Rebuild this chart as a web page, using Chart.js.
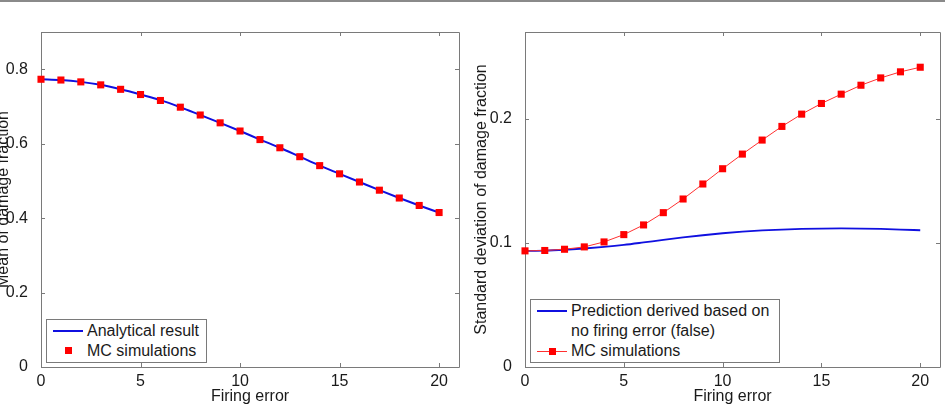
<!DOCTYPE html>
<html lang="en">
  <head>
    <meta charset="UTF-8" />
    <title>Damage fraction vs firing error</title>
    <style>
      body { margin: 0; background: #fff; font-family: "Liberation Sans", Arial, sans-serif; }
      #page { position: relative; width: 945px; height: 408px; overflow: hidden; background: #fff; }
      #topline { position: absolute; left: 0; top: 0; width: 945px; height: 2px; background: #8a8a8a; }
      canvas { position: absolute; top: 0; }
      #leftChart { left: -20px; }
      #rightChart { left: 465px; }
      .legend { position: absolute; border: 1px solid #7a7a7a; background: #fff; box-sizing: border-box; }
      .legend-text { position: absolute; font-size: 16px; line-height: 20px; color: #1a1a1a; white-space: nowrap; }
      .sample-line { position: absolute; width: 30px; }
      .sample-mark { position: absolute; width: 7px; height: 7px; background: #ff0000; }
    </style>
  </head>
  <body>
    <div id="page">
      <div id="topline"></div>
      <canvas id="leftChart" width="485" height="408"></canvas>
      <canvas id="rightChart" width="480" height="408"></canvas>

      <div class="legend" style="left:46px; top:319px; width:161px; height:44px;"></div>
      <div class="sample-line" style="left:53px; top:330px; height:2px; background:#1010e0;"></div>
      <div class="legend-text" style="left:87px; top:321px;">Analytical result</div>
      <div class="sample-mark" style="left:65px; top:347px;"></div>
      <div class="legend-text" style="left:87px; top:341px;">MC simulations</div>

      <div class="legend" style="left:530px; top:299px; width:250px; height:64px;"></div>
      <div class="sample-line" style="left:537px; top:310px; height:2px; background:#1010e0;"></div>
      <div class="legend-text" style="left:571px; top:301px;">Prediction derived based on</div>
      <div class="legend-text" style="left:571px; top:321px;">no firing error (false)</div>
      <div class="sample-line" style="left:537px; top:351px; height:1px; background:#ff3030;"></div>
      <div class="sample-mark" style="left:549px; top:348px;"></div>
      <div class="legend-text" style="left:571px; top:341px;">MC simulations</div>
    </div>

    <script src="https://cdn.jsdelivr.net/npm/chart.js@4.4.1/dist/chart.umd.min.js"></script>
    <script>
      // data
      const firingError = [0, 1, 2, 3, 4, 5, 6, 7, 8, 9, 10, 11, 12, 13, 14, 15, 16, 17, 18, 19, 20];

      const meanAnalytical = [0.773, 0.771, 0.766, 0.758, 0.746, 0.732, 0.717, 0.698, 0.677, 0.656, 0.634,
                              0.611, 0.589, 0.565, 0.541, 0.519, 0.497, 0.475, 0.454, 0.434, 0.415];
      const meanMC = [0.773, 0.771, 0.766, 0.758, 0.746, 0.732, 0.716, 0.698, 0.677, 0.656, 0.634,
                      0.611, 0.589, 0.565, 0.541, 0.519, 0.497, 0.475, 0.454, 0.434, 0.415];

      const stdPrediction = [0.0936, 0.0938, 0.0945, 0.0955, 0.0968, 0.0984, 0.1004, 0.1025, 0.1044, 0.1062, 0.1078,
                             0.1091, 0.1101, 0.1108, 0.1113, 0.1116, 0.1117, 0.1116, 0.1113, 0.1108, 0.1102];
      const stdMC = [0.0936, 0.0939, 0.0949, 0.0968, 0.1008, 0.1067, 0.1145, 0.1244, 0.1354, 0.1475, 0.1598,
                     0.1716, 0.1829, 0.1939, 0.2038, 0.2124, 0.2199, 0.2271, 0.2330, 0.2379, 0.2416];

      const xTicks = [0, 5, 10, 15, 20];
      const meanTicks = [0, 0.2, 0.4, 0.6, 0.8];
      const stdTicks = [0, 0.1, 0.2];

      const pts = (ys) => firingError.map((x, i) => ({ x: x, y: ys[i] }));

      const font = { family: "'Liberation Sans', Arial, sans-serif", size: 16 };

      // matlab style box with inward ticks
      const frame = {
        id: "frame",
        beforeDatasetsDraw(chart) {
          const a = chart.chartArea;
          const c = chart.ctx;
          const sx = chart.scales.x, sy = chart.scales.y;
          c.save();
          c.strokeStyle = "#7a7a7a";
          c.lineWidth = 1;
          c.beginPath();
          c.rect(Math.round(a.left) + 0.5, Math.round(a.top) + 0.5, Math.round(a.right - a.left), Math.round(a.bottom - a.top));
          sx.ticks.forEach((t) => {
            const px = Math.round(sx.getPixelForValue(t.value)) + 0.5;
            c.moveTo(px, a.bottom); c.lineTo(px, a.bottom - 4);
            c.moveTo(px, a.top); c.lineTo(px, a.top + 4);
          });
          sy.ticks.forEach((t) => {
            const py = Math.round(sy.getPixelForValue(t.value)) + 0.5;
            c.moveTo(a.left, py); c.lineTo(a.left + 4, py);
            c.moveTo(a.right, py); c.lineTo(a.right - 4, py);
          });
          c.stroke();
          c.restore();
        },
      };

      function makeOptions(yMax, yTicks, yTitle, padLeft, padRight, titlePad) {
        return {
          responsive: false,
          animation: false,
          devicePixelRatio: 1,
          layout: { padding: { left: padLeft, right: padRight, top: 32, bottom: 0 } },
          plugins: { legend: { display: false }, tooltip: { enabled: false } },
          scales: {
            x: {
              type: "linear",
              min: 0,
              max: 21,
              grid: { display: false },
              border: { display: false },
              afterBuildTicks: (s) => { s.ticks = xTicks.map((v) => ({ value: v })); },
              afterFit: (s) => { s.height = 41; },
              ticks: { font: font, color: "#1a1a1a", padding: -3, autoSkip: false, maxRotation: 0, callback: (v) => String(v) },
              title: { display: true, text: "Firing error", font: font, color: "#1a1a1a", padding: { top: 0, bottom: 2 } },
            },
            y: {
              min: 0,
              max: yMax,
              grid: { display: false },
              border: { display: false },
              afterBuildTicks: (s) => { s.ticks = yTicks.map((v) => ({ value: v })); },
              afterFit: (s) => { s.width = 53; },
              ticks: { font: font, color: "#1a1a1a", padding: 5, autoSkip: false, callback: (v) => String(v) },
              title: { display: true, text: yTitle, font: font, color: "#1a1a1a", padding: { top: titlePad, bottom: 0 } },
            },
          },
        };
      }

      new Chart(document.getElementById("leftChart"), {
        type: "line",
        data: {
          datasets: [
            {
              label: "MC simulations",
              data: pts(meanMC),
              showLine: false,
              pointStyle: "rect",
              pointRadius: 5,
              pointBorderWidth: 0,
              pointBackgroundColor: "#ff0000",
              clip: false,
              order: 0,
            },
            {
              label: "Analytical result",
              data: pts(meanAnalytical),
              borderColor: "#1010e0",
              borderWidth: 2,
              pointRadius: 0,
              cubicInterpolationMode: "monotone",
              order: 1,
            },
          ],
        },
        options: makeOptions(0.9, meanTicks, "Mean of damage fraction", 8, 6, 6),
        plugins: [frame],
      });

      new Chart(document.getElementById("rightChart"), {
        type: "line",
        data: {
          datasets: [
            {
              label: "MC simulations",
              data: pts(stdMC),
              borderColor: "#ff3030",
              borderWidth: 1,
              pointStyle: "rect",
              pointRadius: 5,
              pointBorderWidth: 0,
              pointBackgroundColor: "#ff0000",
              clip: false,
              order: 0,
            },
            {
              label: "Prediction derived based on no firing error (false)",
              data: pts(stdPrediction),
              borderColor: "#1010e0",
              borderWidth: 1.8,
              pointRadius: 0,
              cubicInterpolationMode: "monotone",
              order: 1,
            },
          ],
        },
        options: makeOptions(0.27, stdTicks, "Standard deviation of damage fraction", 7, 2, 0),
        plugins: [frame],
      });
    </script>
  </body>
</html>
